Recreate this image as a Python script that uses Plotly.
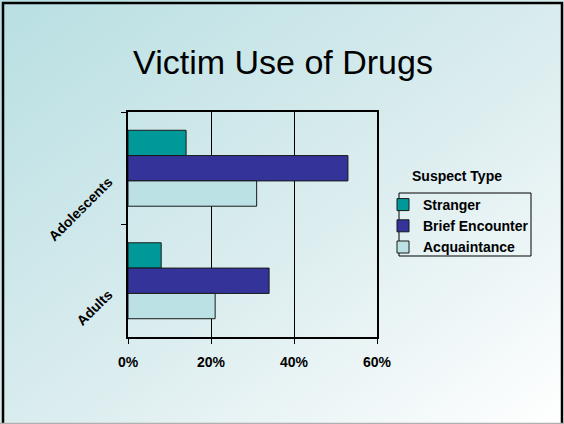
import plotly.graph_objects as go
import urllib.parse

categories = ["Adolescents", "Adults"]
series_names = ["Stranger", "Brief Encounter", "Acquaintance"]
stranger = [0.14, 0.08]
brief_encounter = [0.53, 0.34]
acquaintance = [0.31, 0.21]
x_ticks = [0, 0.2, 0.4, 0.6]
x_tick_labels = ["0%", "20%", "40%", "60%"]

values = [stranger, brief_encounter, acquaintance]
colors = ["#009999", "#333399", "#bbe1e4"]

W, H = 564, 424
ML, MR, MT, MB = 128, 187, 112, 87
PW, PH = W - ML - MR, H - MT - MB
FONT = "Arial, Liberation Sans, sans-serif"

def px(x):
    return (x - ML) / PW

def py(y):
    return (H - MB - y) / PH

fig = go.Figure()
for name, vals, col in zip(series_names, values, colors):
    fig.add_trace(go.Bar(
        y=categories, x=vals, name=name, orientation="h",
        marker=dict(color=col, line=dict(color="#1a1a1a", width=1)),
    ))

svg = f'''<svg xmlns="http://www.w3.org/2000/svg" width="{W}" height="{H}" viewBox="0 0 {W} {H}" preserveAspectRatio="none">
<defs><linearGradient id="g" x1="0" y1="0" x2="1" y2="1">
<stop offset="0" stop-color="#b8dfe2"/><stop offset="0.55" stop-color="#dcedef"/><stop offset="1" stop-color="#ffffff"/>
</linearGradient></defs>
<rect x="0" y="0" width="{W}" height="{H}" fill="url(#g)"/>
<rect x="3" y="3" width="{W-5}" height="{H+4}" fill="none" stroke="#000" stroke-width="2.5"/>
<line x1="0" y1="{H-0.5}" x2="{W}" y2="{H-0.5}" stroke="#b0b0b0" stroke-width="1.5"/>
</svg>'''
src = "data:image/svg+xml;charset=utf-8," + urllib.parse.quote(svg)

fig.update_layout(
    width=W, height=H,
    margin=dict(l=ML, r=MR, t=MT, b=MB),
    barmode="group", bargap=0.325, bargroupgap=0,
    paper_bgcolor="white", plot_bgcolor="rgba(255,255,255,0.45)",
    font=dict(family=FONT, color="black"),
    title=dict(text="Victim Use of Drugs", x=283 / W, xref="container", xanchor="center",
               y=1 - 62 / H, yref="container", yanchor="middle",
               font=dict(size=34, family=FONT, color="black")),
    showlegend=True,
    legend=dict(x=px(383), y=py(189), xanchor="left", yanchor="top",
                borderwidth=0, bgcolor="rgba(0,0,0,0)",
                font=dict(size=14, family=FONT, weight="bold"),
                itemwidth=30, tracegroupgap=0),
    images=[dict(source=src, xref="paper", yref="paper", x=-ML / PW, y=1 + MT / PH,
                 sizex=W / PW, sizey=H / PH, sizing="stretch", xanchor="left", yanchor="top",
                 layer="below")],
    shapes=[dict(type="rect", xref="paper", yref="paper", x0=px(399), x1=px(531),
                 y0=py(193), y1=py(256), line=dict(color="black", width=1))],
    annotations=[dict(text="<b>Suspect Type</b>", xref="paper", yref="paper",
                      x=px(457), y=py(176), xanchor="center", yanchor="middle",
                      showarrow=False, font=dict(size=14, family=FONT))],
)

fig.update_xaxes(range=[0, 0.6], tickvals=x_ticks, ticktext=x_tick_labels,
                 showgrid=True, gridcolor="black", gridwidth=1,
                 showline=True, linecolor="black", linewidth=1.5, mirror=True,
                 ticks="outside", ticklen=5, tickcolor="black", ticklabelstandoff=6,
                 tickfont=dict(size=14, weight="bold", family=FONT), zeroline=False)
fig.update_yaxes(autorange="reversed", tickson="boundaries", ticks="outside", ticklen=5,
                 tickcolor="black", showline=True, linecolor="black", linewidth=1.5, mirror=True,
                 tickangle=-45, tickfont=dict(size=14, weight="bold", family=FONT), showgrid=False,
                 ticklabelshift=-12, ticklabelstandoff=15)

fig.write_html("out.html", config={"displayModeBar": False},
               post_script="document.body.style.margin='0';document.body.style.overflow='hidden';")
